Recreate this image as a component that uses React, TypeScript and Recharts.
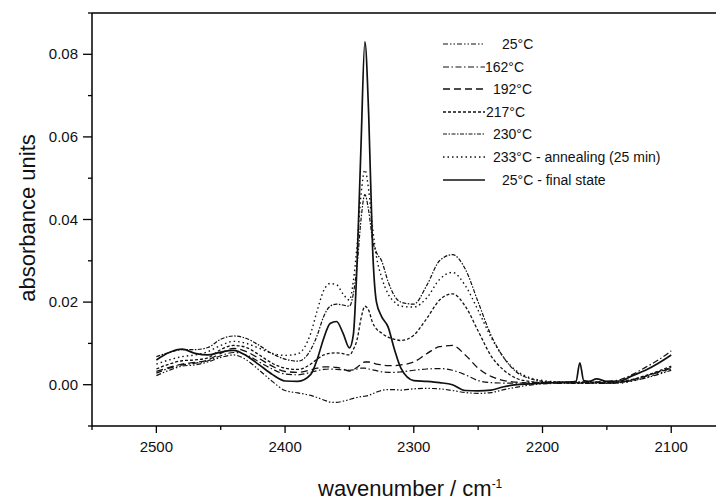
import React from 'react';
import { LineChart, Line, XAxis, YAxis, ReferenceLine } from 'recharts';

const wavenumbers = [
  2500, 2490, 2480, 2470, 2460, 2450, 2440, 2430, 2420, 2410, 2400,
  2390, 2380, 2375, 2370, 2365, 2360, 2355, 2350,
  2347, 2344, 2341, 2338, 2335, 2332, 2329, 2325, 2320, 2315, 2310,
  2300, 2290, 2280, 2270, 2260, 2250, 2240, 2230, 2220, 2210, 2200,
  2190, 2180, 2174, 2171, 2168, 2164, 2158, 2150, 2140, 2130, 2120, 2110, 2100,
];

const t25 = [
  0.0022, 0.0035, 0.0045, 0.0048, 0.0055, 0.0066, 0.0072, 0.006, 0.0035, 0.0008, -0.0014,
  -0.002, -0.0026, -0.0031, -0.0037, -0.0042, -0.0043, -0.004, -0.0036,
  -0.0033, -0.0031, -0.0029, -0.0028, -0.0026, -0.0022, -0.0018, -0.0014, -0.0012, -0.0012, -0.0013,
  -0.001, -0.0009, -0.001, -0.0014, -0.0019, -0.0021, -0.0019, -0.0012, -0.0006, -0.0001, 0.0002,
  0.0003, 0.0003, 0.0003, 0.0003, 0.0003, 0.0003, 0.0003, 0.0003, 0.0005, 0.001, 0.0016, 0.0025, 0.0035,
];

const t162 = [
  0.0028, 0.004, 0.0048, 0.0052, 0.0058, 0.007, 0.0078, 0.0072, 0.0055, 0.0038, 0.0026,
  0.0024, 0.003, 0.0034, 0.0037, 0.0038, 0.0037, 0.0036, 0.0035,
  0.0036, 0.0038, 0.004, 0.004, 0.0038, 0.0036, 0.0034, 0.0031, 0.003, 0.003, 0.0031,
  0.0035, 0.0038, 0.0039, 0.0035, 0.0024, 0.001, 0.0005, 0.0004, 0.0004, 0.0005, 0.0006,
  0.0006, 0.0006, 0.0006, 0.0006, 0.0006, 0.0006, 0.0007, 0.0008, 0.0012, 0.0025, 0.0042, 0.006, 0.0082,
];

const t192 = [
  0.0032, 0.0042, 0.005, 0.0054, 0.006, 0.0076, 0.0088, 0.008, 0.0063, 0.0045, 0.0032,
  0.003, 0.0036, 0.004, 0.0043, 0.0043, 0.0042, 0.0038, 0.0033,
  0.0036, 0.0042, 0.005, 0.0055, 0.0055, 0.0053, 0.005, 0.0048, 0.0046, 0.0046, 0.0048,
  0.0055, 0.0075, 0.0092, 0.0095, 0.0072, 0.004, 0.002, 0.001, 0.0006, 0.0004, 0.0004,
  0.0004, 0.0004, 0.0004, 0.0004, 0.0004, 0.0004, 0.0004, 0.0004, 0.0006, 0.0012, 0.002, 0.003, 0.004,
];

const t217 = [
  0.0038, 0.005, 0.0058, 0.006, 0.0065, 0.0085, 0.0095, 0.009, 0.0072, 0.0052, 0.004,
  0.0037, 0.005, 0.0062, 0.0072, 0.0076, 0.0077, 0.0075, 0.0072,
  0.0085, 0.011, 0.016, 0.019, 0.018, 0.015, 0.0135, 0.0125, 0.0115, 0.011, 0.0107,
  0.012, 0.016, 0.0205, 0.022, 0.019, 0.013, 0.007, 0.0035, 0.0015, 0.0008, 0.0005,
  0.0005, 0.0005, 0.0005, 0.0005, 0.0005, 0.0005, 0.0005, 0.0004, 0.0007, 0.0013, 0.0022, 0.0033, 0.0045,
];

const t230 = [
  0.0068, 0.0078, 0.0085, 0.0085, 0.009, 0.011, 0.0118, 0.0112, 0.0095, 0.0075, 0.0062,
  0.0057, 0.0085, 0.012, 0.0165, 0.019, 0.0195, 0.0193, 0.019,
  0.022, 0.029, 0.04, 0.046, 0.042, 0.035, 0.032, 0.03, 0.025, 0.0215, 0.02,
  0.0195, 0.024, 0.03, 0.0315, 0.028, 0.02, 0.012, 0.0065, 0.003, 0.0015, 0.0008,
  0.0006, 0.0006, 0.0006, 0.0006, 0.0006, 0.0006, 0.0006, 0.0005, 0.0006, 0.0012, 0.0021, 0.0031, 0.0042,
];

const t233 = [
  0.005, 0.006, 0.0068, 0.0072, 0.008, 0.0095, 0.0105, 0.01, 0.0088, 0.0076, 0.0071,
  0.0075, 0.0125, 0.018, 0.0228, 0.0245, 0.0242, 0.022, 0.0205,
  0.025, 0.034, 0.046, 0.052, 0.047, 0.038, 0.031, 0.026, 0.022, 0.02, 0.019,
  0.0188, 0.021, 0.0255, 0.0272, 0.024, 0.018, 0.0115, 0.0065, 0.0033, 0.0017, 0.001,
  0.0007, 0.0006, 0.0005, 0.0005, 0.0005, 0.0005, 0.0005, 0.0004, 0.0004, 0.0009, 0.0017, 0.0027, 0.0038,
];

const tFinal = [
  0.006, 0.0078, 0.0086, 0.0076, 0.0072, 0.0079, 0.0083, 0.007, 0.0048, 0.0025, 0.0009,
  0.0008, 0.0025, 0.0062, 0.0112, 0.0148, 0.0153, 0.0125, 0.0089,
  0.012, 0.03, 0.058, 0.083, 0.065, 0.033, 0.02, 0.0165, 0.014, 0.0085, 0.004,
  0.001, 0.0008, 0.0005, 0.0, -0.0014, -0.0015, -0.0013, -0.0005, 0.0, 0.0002, 0.0004,
  0.0005, 0.0006, 0.0008, 0.0053, 0.001, 0.0008, 0.0014, 0.0008, 0.0009, 0.0022, 0.0035, 0.0052, 0.0072,
];

const xTicks = [2100, 2150, 2200, 2250, 2300, 2350, 2400, 2450, 2500, 2550];
const yTicks = [-0.01, 0, 0.01, 0.02, 0.03, 0.04, 0.05, 0.06, 0.07, 0.08, 0.09];

const series = [
  { key: 't25', label: '25°C', dash: '5 2 1.5 2 1.5 2', width: 1.2, textX: 502 },
  { key: 't162', label: '162°C', dash: '6 2.5 1.5 2.5', width: 1.2, textX: 485 },
  { key: 't192', label: '192°C', dash: '7 4', width: 1.3, textX: 493 },
  { key: 't217', label: '217°C', dash: '3 2', width: 1.3, textX: 486 },
  { key: 't230', label: '230°C', dash: '4 1.5 1.5 1.5', width: 1.2, textX: 493 },
  { key: 't233', label: '233°C - annealing (25 min)', dash: '1.5 3', width: 1.4, textX: 493 },
  { key: 'tFinal', label: '25°C - final state', dash: undefined, width: 1.7, textX: 502 },
];

const data = wavenumbers.map((wn, i) => ({
  wn,
  t25: t25[i],
  t162: t162[i],
  t192: t192[i],
  t217: t217[i],
  t230: t230[i],
  t233: t233[i],
  tFinal: tFinal[i],
}));

const FONT = '"Liberation Sans", Arial, Helvetica, sans-serif';

const XTick = (props: any) => {
  const { x, y, payload } = props;
  const v = payload.value;
  const major = v % 100 === 0;
  return (
    <g>
      <line x1={x} x2={x} y1={y} y2={y + (major ? 7 : 4)} stroke="#000" strokeWidth={1.3} />
      {major && (
        <text x={x} y={y + 26} textAnchor="middle" fontSize={15} fontFamily={FONT} fill="#111">
          {v}
        </text>
      )}
    </g>
  );
};

const YTick = (props: any) => {
  const { x, y, payload } = props;
  const v = payload.value;
  const n = Math.round(v * 100);
  const major = n % 2 === 0 && n >= 0 && n <= 8;
  return (
    <g>
      <line x1={x} x2={x - (major ? 9 : 4)} y1={y} y2={y} stroke="#000" strokeWidth={1.3} />
      {major && (
        <text x={x - 14} y={y + 5} textAnchor="end" fontSize={15} fontFamily={FONT} fill="#111">
          {v.toFixed(2)}
        </text>
      )}
    </g>
  );
};

export default function App() {
  return (
    <div style={{ position: 'relative', width: 716, height: 492, background: '#fff', fontFamily: FONT }}>
      <LineChart width={716} height={492} data={data} margin={{ top: 5, right: 0, bottom: 0, left: 0 }}>
        <XAxis
          dataKey="wn"
          type="number"
          domain={[2059, 2550]}
          reversed
          allowDataOverflow
          ticks={xTicks}
          interval={0}
          height={74}
          tickSize={0}
          tickMargin={0}
          tick={<XTick />}
          axisLine={{ stroke: '#000', strokeWidth: 1.5 }}
        />
        <YAxis
          type="number"
          domain={[-0.01, 0.09]}
          allowDataOverflow
          ticks={yTicks}
          interval={0}
          width={84}
          tickSize={0}
          tickMargin={0}
          tick={<YTick />}
          axisLine={{ stroke: '#000', strokeWidth: 1.5 }}
        />
        <ReferenceLine y={0.09} stroke="#000" strokeWidth={1.5} />
        {series.map(s => (
          <Line
            key={s.key}
            dataKey={s.key}
            type="monotone"
            stroke="#111"
            strokeWidth={s.width}
            strokeDasharray={s.dash}
            dot={false}
            isAnimationActive={false}
          />
        ))}
      </LineChart>

      {/* legend */}
      {series.map((s, i) => {
        const cy = 36 + i * 22.6;
        return (
          <React.Fragment key={s.key}>
            <svg style={{ position: 'absolute', left: 435, top: cy - 3 }} width={44} height={6}>
              <line x1={0} x2={42} y1={3} y2={3} stroke="#111" strokeWidth={s.width} strokeDasharray={s.dash} />
            </svg>
            <div style={{ position: 'absolute', left: s.textX - 8, top: cy - 9, fontSize: 14, lineHeight: '18px', color: '#111', whiteSpace: 'nowrap' }}>
              {s.label}
            </div>
          </React.Fragment>
        );
      })}

      {/* axis titles */}
      <div style={{ position: 'absolute', left: 310, top: 464, fontSize: 22, lineHeight: '24px', color: '#111', whiteSpace: 'nowrap' }}>
        wavenumber / cm<sup style={{ fontSize: 12 }}>-1</sup>
      </div>
      <div style={{ position: 'absolute', left: 20, top: 210, width: 0, height: 0 }}>
        <div style={{ position: 'absolute', transform: 'translate(-50%, -50%) rotate(-90deg)', fontSize: 22, color: '#111', whiteSpace: 'nowrap' }}>
          absorbance units
        </div>
      </div>
    </div>
  );
}
